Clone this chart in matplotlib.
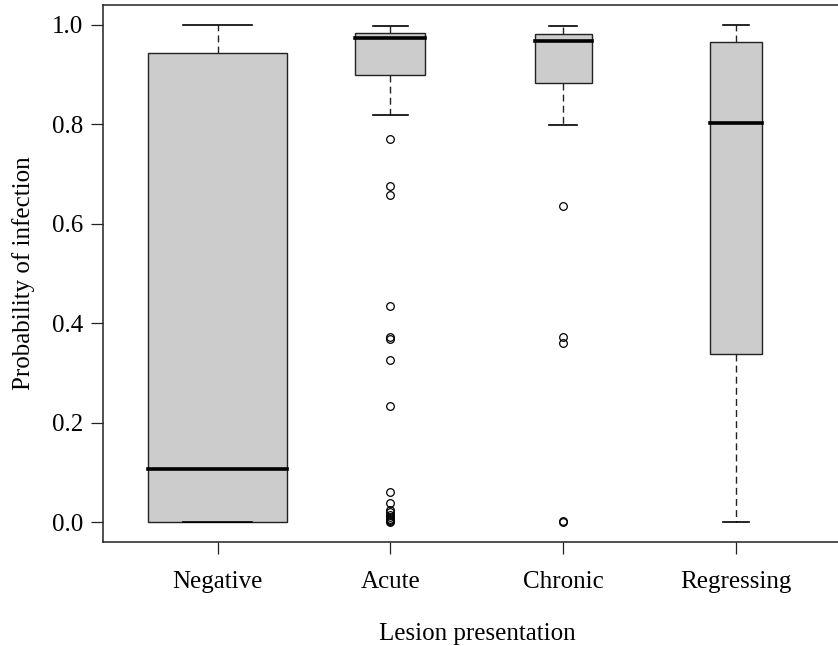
import matplotlib
matplotlib.use("Agg")
import matplotlib.pyplot as plt

# Box summaries per lesion group (R-style boxplot, whiskers at 1.5 IQR)
groups = ["Negative", "Acute", "Chronic", "Regressing"]
whisker_low = [0.0, 0.819, 0.799, 0.0]
quart1 = [0.0, 0.900, 0.884, 0.339]
medians = [0.107, 0.973, 0.967, 0.802]
quart3 = [0.944, 0.983, 0.981, 0.965]
whisker_high = [1.0, 0.997, 0.997, 1.0]

outliers_negative = []
outliers_acute = [0.771, 0.676, 0.657, 0.435, 0.372, 0.368, 0.326, 0.234,
                  0.060, 0.039, 0.025, 0.020, 0.015, 0.011, 0.007, 0.004,
                  0.002, 0.0]
outliers_chronic = [0.636, 0.373, 0.360, 0.002, 0.0]
outliers_regressing = []

y_ticks = [0.0, 0.2, 0.4, 0.6, 0.8, 1.0]

# varwidth-style box widths
BOX_WIDTHS = [0.8, 0.405, 0.33, 0.30]

plt.rcParams["font.family"] = ["Liberation Serif", "DejaVu Serif"]
plt.rcParams["font.size"] = 18

outliers = [outliers_negative, outliers_acute, outliers_chronic, outliers_regressing]
stats = []
for i, name in enumerate(groups):
    stats.append({
        "label": name,
        "whislo": whisker_low[i],
        "q1": quart1[i],
        "med": medians[i],
        "q3": quart3[i],
        "whishi": whisker_high[i],
        "fliers": outliers[i],
    })

fig = plt.figure(figsize=(8.38, 6.46), dpi=100)
ax = fig.add_axes([0.1235, 0.161, 0.891, 0.8313])

ax.bxp(
    stats,
    positions=[1, 2, 3, 4],
    widths=BOX_WIDTHS,
    patch_artist=True,
    capwidths=[w * 0.5 for w in BOX_WIDTHS],
    boxprops=dict(facecolor="#cccccc", edgecolor="#222222", linewidth=1.0),
    medianprops=dict(color="black", linewidth=2.6, solid_capstyle="projecting"),
    whiskerprops=dict(color="#222222", linewidth=1.0, linestyle=(0, (5, 3))),
    capprops=dict(color="black", linewidth=1.2),
    flierprops=dict(marker="o", markerfacecolor="none", markeredgecolor="black",
                    markersize=5.5, markeredgewidth=0.9, linestyle="none"),
)

ax.set_xlim(0.34, 4.66)
ax.set_ylim(-0.04, 1.04)
ax.set_yticks(y_ticks)
ax.set_yticklabels([f"{v:.1f}" for v in y_ticks])
ax.set_xticks([1, 2, 3, 4])
ax.set_xticklabels(groups)

ax.tick_params(axis="both", direction="out", length=8.6, width=0.9, color="#222222")
ax.tick_params(axis="y", pad=6.0)
ax.tick_params(axis="x", pad=12)

for side in ["left", "right", "top", "bottom"]:
    ax.spines[side].set_linewidth(1.1)
    ax.spines[side].set_color("#222222")

ax.set_ylabel("Probability of infection", labelpad=12)
ax.set_xlabel("Lesion presentation", labelpad=22)

fig.savefig("out.png", dpi=100)
